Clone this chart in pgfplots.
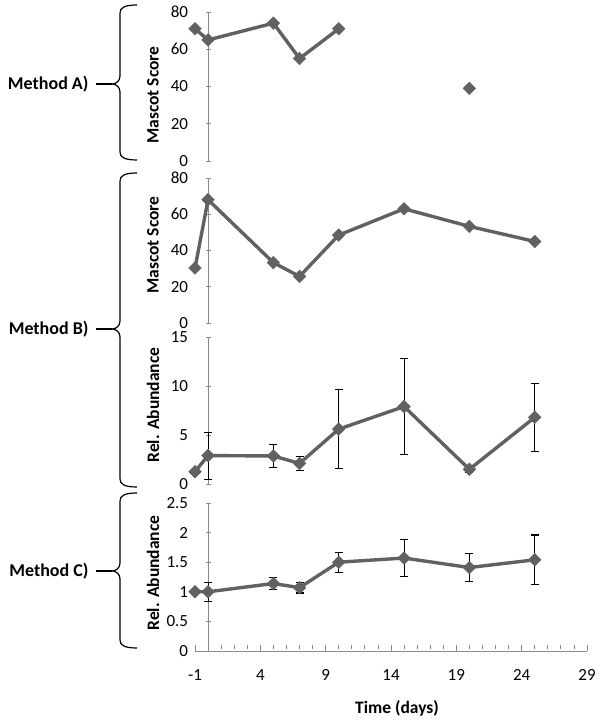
\documentclass[border=0pt]{standalone}
\usepackage{fontspec}
\setmainfont{Carlito}
\usepackage{pgfplots}
\pgfplotsset{compat=1.18}
\definecolor{ln}{HTML}{616161}
\definecolor{ax}{HTML}{8A8A8A}
\pgfplotsset{
 base/.style={scale only axis, width=392pt, xmin=-1, xmax=29,
  axis line style={ax, line width=0.8pt},
  tick style={ax, line width=0.8pt},
  tick align=outside, major tick length=5pt, minor tick length=4pt,
  /pgf/number format/assume math mode=true,
  clip=false, anchor=south west},
 panel/.style={base,
  axis y line=center, axis x line=none,
  every inner y axis line/.append style={-},
  yticklabel style={anchor=east, xshift=-14pt, font=\fontsize{17}{17}\selectfont},
  unbounded coords=jump,
 },
 data/.style={ln, line width=3.4pt, mark=square*, mark size=4.5pt, mark options={ln, fill=ln, line width=0.4pt, rotate=45}},
 ebars/.style={draw=none, mark=none, forget plot, error bars/.cd, y dir=both, y explicit,
   error bar style={black, line width=1.1pt},
   error mark options={black, rotate=90, mark size=4pt, line width=1.1pt}},
}
\newcommand\mbrace[3]{%
\draw[black, line width=1.2pt] (137,{720-#1}) .. controls (124,{720-#1}) and (120,{717-#1}) .. (120,{712-#1})
 -- (120,{728-#3}) .. controls (120,{723-#3}) and (116,{720-#3}) .. (112,{720-#3})
 .. controls (116,{720-#3}) and (120,{717-#3}) .. (120,{712-#3})
 -- (120,{728-#2}) .. controls (120,{723-#2}) and (124,{720-#2}) .. (137,{720-#2});
\draw[black, line width=1.2pt] (96,{720-#3}) -- (112,{720-#3});}
\begin{document}
\begin{tikzpicture}[x=1pt,y=1pt]
\path[use as bounding box] (0,0) rectangle (602,720);
% Panel A
\begin{axis}[panel, at={(195pt,559pt)}, height=149pt, ymin=0, ymax=80, ytick={0,20,...,80}]
\addplot[data] coordinates {(-1,71) (0,65) (5,74) (7,55) (10,71) (15,nan) (20,39)};
\end{axis}
% Panel B1
\begin{axis}[panel, at={(195pt,397pt)}, height=145pt, ymin=0, ymax=80, ytick={0,20,...,80}]
\addplot[data] coordinates {(-1,30.3) (0,68) (5,33.3) (7,25.7) (10,48.5) (15,63) (20,53.3) (25,45)};
\end{axis}
% Panel B2
\begin{axis}[panel, at={(195pt,236pt)}, height=147pt, ymin=0, ymax=15, ytick={0,5,10,15}]
\addplot[ebars] coordinates {(0,2.9) +- (0,2.4) (5,2.86) +- (0,1.15) (7,2.1) +- (0,0.7) (10,5.6) +- (0,4.0) (15,7.9) +- (0,4.9) (20,1.5) +- (0,0.3) (25,6.8) +- (0,3.5)};
\addplot[data] coordinates {(-1,1.26) (0,2.9) (5,2.86) (7,2.1) (10,5.6) (15,7.9) (20,1.5) (25,6.8)};
\end{axis}
% Panel C x axis
\begin{axis}[base, at={(195pt,69pt)}, height=148pt, ymin=0, ymax=2.5,
  axis y line=none, axis x line=bottom, every outer x axis line/.append style={-},
  xtick={-1,4,...,29}, minor x tick num=4, major tick length=6pt,
  every major x tick/.append style={yshift=3pt},
  every minor x tick/.append style={yshift=4pt},
  xticklabel style={font=\fontsize{17}{17}\selectfont, yshift=-12pt}]
\end{axis}
% Panel C
\begin{axis}[panel, at={(195pt,69pt)}, height=148pt, ymin=0, ymax=2.5, ytick={0,0.5,...,2.5}]
\addplot[ebars] coordinates {(0,1.0) +- (0,0.16) (5,1.14) +- (0,0.1) (7,1.07) +- (0,0.09) (10,1.5) +- (0,0.17) (15,1.57) +- (0,0.31) (20,1.41) +- (0,0.24) (25,1.54) +- (0,0.42)};
\addplot[data] coordinates {(-1,1.0) (0,1.0) (5,1.14) (7,1.07) (10,1.5) (15,1.57) (20,1.41) (25,1.54)};
\end{axis}
% y labels
\begin{scope}[every node/.style={rotate=90, font=\bfseries\fontsize{17.5}{17.5}\selectfont}]
\node at (153,{720-95}) {Mascot Score};
\node at (153,{720-245}) {Mascot Score};
\node at (153,{720-405}) {Rel. Abundance};
\node at (153,{720-573}) {Rel. Abundance};
\end{scope}
\node[font=\bfseries\fontsize{17.5}{17.5}\selectfont] at (397,{720-708}) {Time (days)};
% braces and method labels
\mbrace{5}{160}{84}
\mbrace{173}{487}{329}
\mbrace{493}{648}{571}
\begin{scope}[every node/.style={anchor=east, font=\bfseries\fontsize{18}{18}\selectfont}]
\node at (92,{720-84}) {Method A)};
\node at (92,{720-329}) {Method B)};
\node at (92,{720-571}) {Method C)};
\end{scope}
\end{tikzpicture}
\end{document}
